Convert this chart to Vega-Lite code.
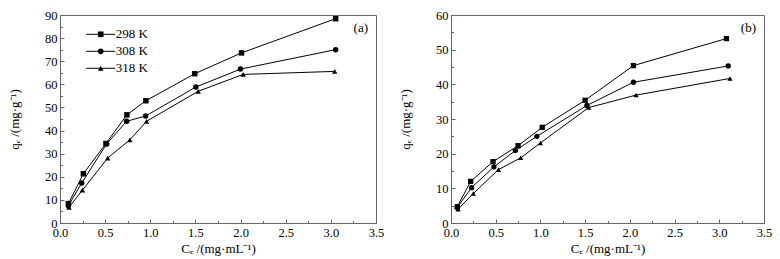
{
  "$schema": "https://vega.github.io/schema/vega-lite/v6.json",
  "padding": {"left": 7, "top": 8, "right": 5, "bottom": 2},
  "background": "white",
  "bounds": "flush",
  "spacing": 75,
  "config": {
    "font": "Liberation Serif",
    "view": {"stroke": "#666", "strokeWidth": 1},
    "axis": {"domainColor": "#666", "tickColor": "#666", "labelFont": "Liberation Serif", "labelFontSize": 12.5, "labelColor": "#000", "titleFont": "Liberation Serif", "titleFontSize": 13, "titleFontWeight": "normal", "titleColor": "#000", "grid": false},
    "legend": {"labelFont": "Liberation Serif", "labelFontSize": 13, "labelColor": "black"},
    "title": {"font": "Liberation Serif", "fontSize": 13, "fontWeight": "normal", "color": "black"}
  },
  "datasets": {
    "a": [
      {"T": "298 K", "Ce": 0.093, "qe": 8.4},
      {"T": "298 K", "Ce": 0.259, "qe": 21.3},
      {"T": "298 K", "Ce": 0.509, "qe": 34.4},
      {"T": "298 K", "Ce": 0.741, "qe": 46.8},
      {"T": "298 K", "Ce": 0.951, "qe": 52.9},
      {"T": "298 K", "Ce": 1.493, "qe": 64.6},
      {"T": "298 K", "Ce": 2.01, "qe": 73.6},
      {"T": "298 K", "Ce": 3.053, "qe": 88.4},
      {"T": "308 K", "Ce": 0.093, "qe": 7.5},
      {"T": "308 K", "Ce": 0.24, "qe": 17.3},
      {"T": "308 K", "Ce": 0.517, "qe": 34.2},
      {"T": "308 K", "Ce": 0.738, "qe": 44.0},
      {"T": "308 K", "Ce": 0.948, "qe": 46.3},
      {"T": "308 K", "Ce": 1.504, "qe": 58.8},
      {"T": "308 K", "Ce": 1.999, "qe": 66.6},
      {"T": "308 K", "Ce": 3.053, "qe": 75.0},
      {"T": "318 K", "Ce": 0.1, "qe": 6.8},
      {"T": "318 K", "Ce": 0.248, "qe": 14.2},
      {"T": "318 K", "Ce": 0.528, "qe": 28.1},
      {"T": "318 K", "Ce": 0.774, "qe": 36.0},
      {"T": "318 K", "Ce": 0.959, "qe": 44.0},
      {"T": "318 K", "Ce": 1.531, "qe": 57.0},
      {"T": "318 K", "Ce": 2.029, "qe": 64.3},
      {"T": "318 K", "Ce": 3.042, "qe": 65.6}
    ],
    "b": [
      {"T": "298 K", "Ce": 0.07, "qe": 4.7},
      {"T": "298 K", "Ce": 0.22, "qe": 12.0},
      {"T": "298 K", "Ce": 0.47, "qe": 17.7},
      {"T": "298 K", "Ce": 0.75, "qe": 22.3},
      {"T": "298 K", "Ce": 1.02, "qe": 27.6},
      {"T": "298 K", "Ce": 1.5, "qe": 35.4},
      {"T": "298 K", "Ce": 2.04, "qe": 45.4},
      {"T": "298 K", "Ce": 3.08, "qe": 53.2},
      {"T": "308 K", "Ce": 0.07, "qe": 4.5},
      {"T": "308 K", "Ce": 0.23, "qe": 10.2},
      {"T": "308 K", "Ce": 0.48, "qe": 16.2},
      {"T": "308 K", "Ce": 0.72, "qe": 20.9},
      {"T": "308 K", "Ce": 0.96, "qe": 25.0},
      {"T": "308 K", "Ce": 1.52, "qe": 33.9},
      {"T": "308 K", "Ce": 2.04, "qe": 40.6},
      {"T": "308 K", "Ce": 3.1, "qe": 45.3},
      {"T": "318 K", "Ce": 0.08, "qe": 4.0},
      {"T": "318 K", "Ce": 0.25, "qe": 8.5},
      {"T": "318 K", "Ce": 0.53, "qe": 15.4},
      {"T": "318 K", "Ce": 0.78, "qe": 18.8},
      {"T": "318 K", "Ce": 1.0, "qe": 23.1},
      {"T": "318 K", "Ce": 1.54, "qe": 33.3},
      {"T": "318 K", "Ce": 2.07, "qe": 36.9},
      {"T": "318 K", "Ce": 3.12, "qe": 41.7}
    ]
  },
  "hconcat": [
    {
      "width": 316,
      "height": 208,
      "title": {"text": "(a)", "anchor": "end", "frame": "group", "offset": -26, "dx": -8},
      "data": {"name": "a"},
      "encoding": {
        "x": {"field": "Ce", "type": "quantitative", "scale": {"domain": [0, 3.5], "nice": false},
          "axis": {"title": "Cₑ /(mg·mL⁻¹)", "values": [0,0.25,0.5,0.75,1,1.25,1.5,1.75,2,2.25,2.5,2.75,3,3.25,3.5], "labelExpr": "datum.value % 0.5 === 0 ? format(datum.value, '.1f') : ''", "tickSize": {"condition": {"test": "datum.value % 0.5 === 0", "value": -4}, "value": -2.5}, "labelPadding": 7.7, "titlePadding": 1.5, "labelFlush": false, "labelOverlap": false, "labelBound": false, "labelFont": "Liberation Serif", "labelFontSize": 12.5, "titleFont": "Liberation Serif", "titleFontSize": 13}},
        "y": {"field": "qe", "type": "quantitative", "scale": {"domain": [0, 90], "nice": false},
          "axis": {"title": "qₑ /(mg·g⁻¹)", "values": [0,5,10,15,20,25,30,35,40,45,50,55,60,65,70,75,80,85,90], "labelExpr": "datum.value % 10 === 0 ? datum.label : ''", "tickSize": {"condition": {"test": "datum.value % 10 === 0", "value": -4}, "value": -2.5}, "labelPadding": 7, "minExtent": 30, "maxExtent": 30, "titlePadding": 9, "labelFlush": false, "labelOverlap": false, "labelBound": false, "labelFont": "Liberation Serif", "labelFontSize": 12.5, "titleFont": "Liberation Serif", "titleFontSize": 13}}
      },
      "layer": [
        {
          "mark": {"type": "line", "strokeWidth": 1},
          "encoding": {
            "detail": {"field": "T"},
            "stroke": {"field": "T", "type": "nominal", "scale": {"range": ["black", "black", "black"]},
              "legend": {"orient": "none", "legendX": 34.2, "legendY": 12.8, "title": null, "symbolType": "M-4.83,0H4.83", "symbolSize": 36, "symbolStrokeWidth": 1, "symbolFillColor": "transparent", "labelOffset": 8.5, "rowPadding": 3, "padding": 0, "labelOpacity": 0}}
          }
        },
        {
          "mark": {"type": "point", "filled": true, "color": "black", "opacity": 1, "size": 30},
          "encoding": {
            "shape": {"field": "T", "type": "nominal", "scale": {"domain": ["298 K", "308 K", "318 K"], "range": ["square", "circle", "triangle-up"]},
              "legend": {"orient": "none", "legendX": 34.2, "legendY": 12.8, "title": null, "symbolSize": 32, "symbolStrokeWidth": 0, "symbolFillColor": "black", "symbolStrokeColor": "black", "labelOffset": 8.5, "rowPadding": 3, "padding": 0}}
          }
        }
      ]
    },
    {
      "width": 313,
      "height": 208,
      "title": {"text": "(b)", "anchor": "end", "frame": "group", "offset": -26, "dx": -8},
      "data": {"name": "b"},
      "encoding": {
        "x": {"field": "Ce", "type": "quantitative", "scale": {"domain": [0, 3.5], "nice": false},
          "axis": {"title": "Cₑ /(mg·mL⁻¹)", "values": [0,0.25,0.5,0.75,1,1.25,1.5,1.75,2,2.25,2.5,2.75,3,3.25,3.5], "labelExpr": "datum.value % 0.5 === 0 ? format(datum.value, '.1f') : ''", "tickSize": {"condition": {"test": "datum.value % 0.5 === 0", "value": -4}, "value": -2.5}, "labelPadding": 7.7, "titlePadding": 1.5, "labelFlush": false, "labelOverlap": false, "labelBound": false, "labelFont": "Liberation Serif", "labelFontSize": 12.5, "titleFont": "Liberation Serif", "titleFontSize": 13}},
        "y": {"field": "qe", "type": "quantitative", "scale": {"domain": [0, 60], "nice": false},
          "axis": {"title": "qₑ /(mg·g⁻¹)", "values": [0,5,10,15,20,25,30,35,40,45,50,55,60], "labelExpr": "datum.value % 10 === 0 ? datum.label : ''", "tickSize": {"condition": {"test": "datum.value % 10 === 0", "value": -4}, "value": -2.5}, "labelPadding": 7, "minExtent": 30, "maxExtent": 30, "titlePadding": 9, "labelFlush": false, "labelOverlap": false, "labelBound": false, "labelFont": "Liberation Serif", "labelFontSize": 12.5, "titleFont": "Liberation Serif", "titleFontSize": 13}}
      },
      "layer": [
        {
          "mark": {"type": "line", "strokeWidth": 1},
          "encoding": {
            "detail": {"field": "T"},
            "stroke": {"field": "T", "type": "nominal", "scale": {"range": ["black", "black", "black"]},
              "legend": {"orient": "none", "legendX": 31.5, "legendY": 15.5, "title": null, "symbolType": "M-5.33,0H5.33", "symbolSize": 36, "symbolStrokeWidth": 1, "symbolFillColor": "transparent", "labelOffset": 9, "rowPadding": 3, "padding": 0, "labelOpacity": 0}}
          }
        },
        {
          "mark": {"type": "point", "filled": true, "color": "black", "opacity": 1, "size": 28},
          "encoding": {
            "shape": {"field": "T", "type": "nominal", "scale": {"domain": ["298 K", "308 K", "318 K"], "range": ["square", "circle", "triangle-up"]},
              "legend": {"orient": "none", "legendX": 31.5, "legendY": 15.5, "title": null, "symbolSize": 28, "symbolStrokeWidth": 0, "symbolFillColor": "black", "symbolStrokeColor": "black", "labelOffset": 9, "rowPadding": 3, "padding": 0}}
          }
        }
      ]
    }
  ]
}
